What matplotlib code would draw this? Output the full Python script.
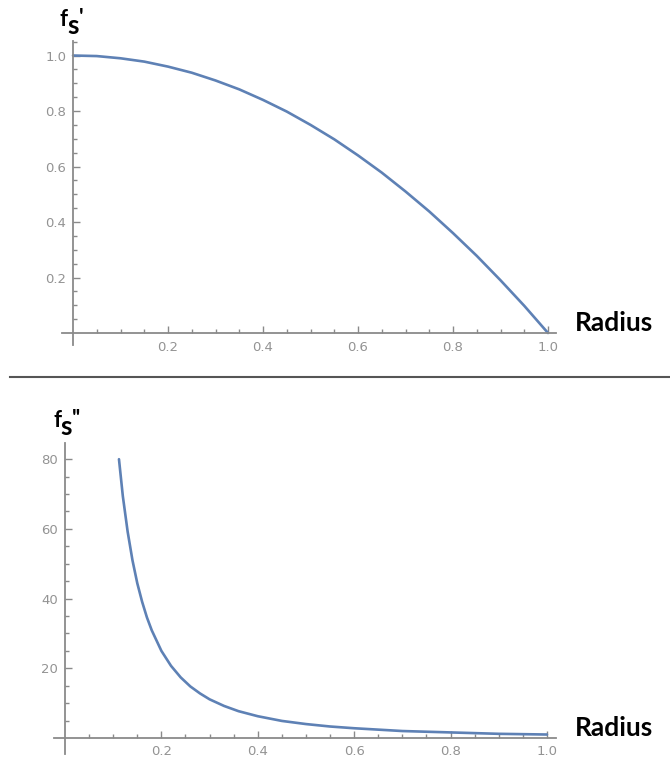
import matplotlib
matplotlib.use('Agg')
import matplotlib.pyplot as plt
from matplotlib.lines import Line2D
from matplotlib.ticker import FixedLocator, FormatStrFormatter

# first derivative f_s' against radius
r_top = [0.0, 0.05, 0.1, 0.15, 0.2, 0.25, 0.3, 0.35, 0.4, 0.45, 0.5,
         0.55, 0.6, 0.65, 0.7, 0.75, 0.8, 0.85, 0.9, 0.95, 1.0]
fs1 = [1.0, 0.998, 0.99, 0.978, 0.96, 0.938, 0.91, 0.878, 0.84, 0.798, 0.75,
       0.698, 0.64, 0.578, 0.51, 0.438, 0.36, 0.278, 0.19, 0.098, 0.0]

# second derivative f_s'' against radius
r_bot = [0.112, 0.12, 0.13, 0.14, 0.15, 0.16, 0.17, 0.18, 0.2, 0.22, 0.24,
         0.26, 0.28, 0.3, 0.33, 0.36, 0.4, 0.45, 0.5, 0.55, 0.6, 0.7, 0.8,
         0.9, 1.0]
fs2 = [80.0, 69.4, 59.2, 51.0, 44.4, 39.1, 34.6, 30.9, 25.0, 20.7, 17.4,
       14.8, 12.8, 11.1, 9.2, 7.7, 6.25, 4.9, 4.0, 3.3, 2.8, 2.0, 1.6,
       1.2, 1.0]

x_major = [0.2, 0.4, 0.6, 0.8, 1.0]
x_minor = [0.05, 0.1, 0.15, 0.25, 0.3, 0.35, 0.45, 0.5, 0.55, 0.65, 0.7,
           0.75, 0.85, 0.9, 0.95]
y1_major = [0.2, 0.4, 0.6, 0.8, 1.0]
y1_minor = [0.05, 0.1, 0.15, 0.25, 0.3, 0.35, 0.45, 0.5, 0.55, 0.65, 0.7,
            0.75, 0.85, 0.9, 0.95, 1.05]
y2_major = [20, 40, 60, 80]
y2_minor = [5, 10, 15, 25, 30, 35, 45, 50, 55, 65, 70, 75]

W, H = 670, 763
line_color = '#5e81b5'
axis_color = '#8a8a8a'
label_color = '#939393'
bold_font = ['Lato', 'DejaVu Sans']


def style_axis(ax, ymaj, ymin, yfmt, xpad):
    for s in ['top', 'right']:
        ax.spines[s].set_visible(False)
    for s in ['left', 'bottom']:
        ax.spines[s].set_position(('data', 0))
        ax.spines[s].set_color(axis_color)
        ax.spines[s].set_linewidth(1.3)
    ax.xaxis.set_major_locator(FixedLocator(x_major))
    ax.xaxis.set_minor_locator(FixedLocator(x_minor))
    ax.yaxis.set_major_locator(FixedLocator(ymaj))
    ax.yaxis.set_minor_locator(FixedLocator(ymin))
    ax.xaxis.set_major_formatter(FormatStrFormatter('%.1f'))
    ax.yaxis.set_major_formatter(FormatStrFormatter(yfmt))
    ax.tick_params(which='both', direction='in', color=axis_color, width=1)
    ax.tick_params(which='major', length=5, labelsize=9.5, labelcolor=label_color)
    ax.tick_params(which='minor', length=3)
    ax.tick_params(axis='x', which='major', pad=xpad)
    ax.tick_params(axis='y', which='major', pad=5)


def ylabel(x, y, n_primes):
    # f with subscript s and primes, placed in figure pixels from the top left
    fig.text(x / W, 1 - y / H, 'f', fontsize=16, fontweight='bold',
             family=bold_font, ha='left', va='baseline')
    fig.text((x + 7) / W, 1 - (y + 8) / H, 's', fontsize=19, fontweight='bold',
             family=bold_font, ha='left', va='baseline')
    fig.text((x + 19) / W, 1 - (y - 1) / H, "'" * n_primes, fontsize=16,
             fontweight='bold', family=bold_font, ha='left', va='baseline')


fig = plt.figure(figsize=(W / 100, H / 100), dpi=100)

# top panel
ax1 = fig.add_axes([62 / W, 1 - 345 / H, (556 - 62) / W, (345 - 41) / H])
ax1.plot(r_top, fs1, color=line_color, lw=1.9, solid_capstyle='round')
ax1.set_xlim(-0.0232, 1.0168)
ax1.set_ylim(-0.0432, 1.0523)
style_axis(ax1, y1_major, y1_minor, '%.1f', 6)

# bottom panel
ax2 = fig.add_axes([54 / W, 1 - 754 / H, (556 - 54) / W, (754 - 443) / H])
ax2.plot(r_bot, fs2, color=line_color, lw=1.9, solid_capstyle='round')
ax2.set_xlim(-0.0228, 1.0187)
ax2.set_ylim(-4.59, 84.65)
style_axis(ax2, y2_major, y2_minor, '%d', 5)

ylabel(60, 26, 1)
ylabel(53, 427, 2)

fig.text(575 / W, 1 - 331 / H, 'Radius', fontsize=19, fontweight='bold',
         family=bold_font, ha='left', va='baseline')
fig.text(575 / W, 1 - 736 / H, 'Radius', fontsize=19, fontweight='bold',
         family=bold_font, ha='left', va='baseline')

# separator between the two plots
fig.add_artist(Line2D([10 / W, 1.0], [1 - 377 / H, 1 - 377 / H],
                      color='#555555', lw=1.5, transform=fig.transFigure))

fig.savefig('out.png', dpi=100)
